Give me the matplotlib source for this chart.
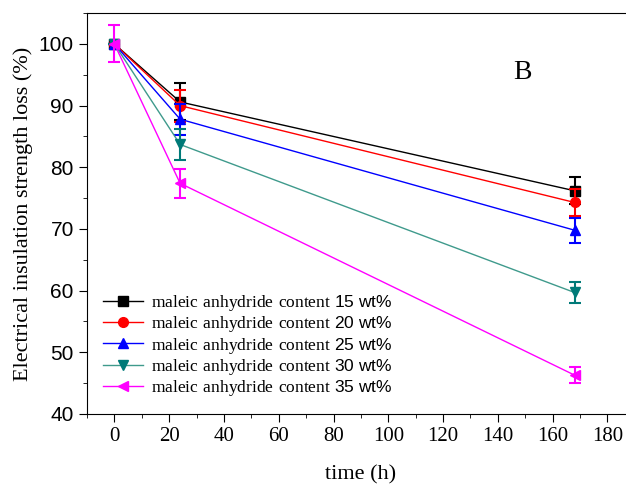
import matplotlib.pyplot as plt
import numpy as np
from matplotlib.ticker import MultipleLocator

plt.rcParams['font.family'] = 'Liberation Sans'
plt.rcParams['mathtext.fontset'] = 'custom'
plt.rcParams['mathtext.rm'] = 'Liberation Serif'

# tempo (h)
tempo = [0, 24, 168]

# perda de rigidez dielétrica (%) e barras de erro
mah15 = [100, 90.6, 76.2]
err15 = [0, 3.0, 2.2]
mah20 = [100, 90.0, 74.3]
err20 = [0, 2.6, 2.2]
mah25 = [100, 87.8, 69.8]
err25 = [0, 2.5, 2.0]
mah30 = [100, 83.7, 59.7]
err30 = [0, 2.5, 1.7]
mah35 = [100, 77.4, 46.3]
err35 = [3.0, 2.3, 1.3]

rotulos = ['15 wt%', '20 wt%', '25 wt%', '30 wt%', '35 wt%']

series = [
    (mah15, err15, 's', 'black', 'black'),
    (mah20, err20, 'o', 'red', 'red'),
    (mah25, err25, '^', 'blue', 'blue'),
    (mah30, err30, 'v', '#3f9a8c', '#007a78'),
    (mah35, err35, '<', '#ff00ff', '#ff00ff'),
]

fig = plt.figure(figsize=(6.26, 4.87), dpi=100)
ax = fig.add_axes([0.139, 0.150, 0.875, 0.823])

for (y, e, m, cl, cm), r in zip(series, rotulos):
    ax.errorbar(tempo, y, yerr=e, fmt='none', ecolor=cm, elinewidth=1.5,
                capsize=4, capthick=1.5)
    ax.plot(tempo, y, color=cl, lw=1, marker=m, markersize=7,
            markerfacecolor=cm, markeredgecolor=cm,
            label=r'$\mathrm{maleic\ anhydride\ content}$ ' + r)

ax.set_xlim(-10, 190)
ax.set_ylim(40, 105)
ax.xaxis.set_major_locator(MultipleLocator(20))
ax.xaxis.set_minor_locator(MultipleLocator(10))
ax.yaxis.set_major_locator(MultipleLocator(10))
ax.yaxis.set_minor_locator(MultipleLocator(5))
ax.tick_params(which='both', direction='out', top=False, right=False)
ax.tick_params(which='major', length=6)
ax.tick_params(which='minor', length=3)
ax.tick_params(axis='y', labelsize=15)
for t in ax.get_xticklabels():
    t.set_fontfamily('Liberation Serif')
    t.set_fontsize(15)

ax.set_xlabel('time (h)', fontfamily='Liberation Serif', fontsize=16, labelpad=14)
ax.set_ylabel('Electrical insulation strength loss (%)',
              fontfamily='Liberation Serif', fontsize=16, labelpad=4)

ax.text(149, 95.3, 'B', fontfamily='Liberation Serif', fontsize=20,
        ha='center', va='center')

ax.legend(loc='lower left', bbox_to_anchor=(0.0, 0.0), frameon=False,
          fontsize=12.5, handlelength=2.3, labelspacing=0.08, borderpad=0.4,
          handletextpad=0.5)

fig.savefig('out.png', dpi=100)
